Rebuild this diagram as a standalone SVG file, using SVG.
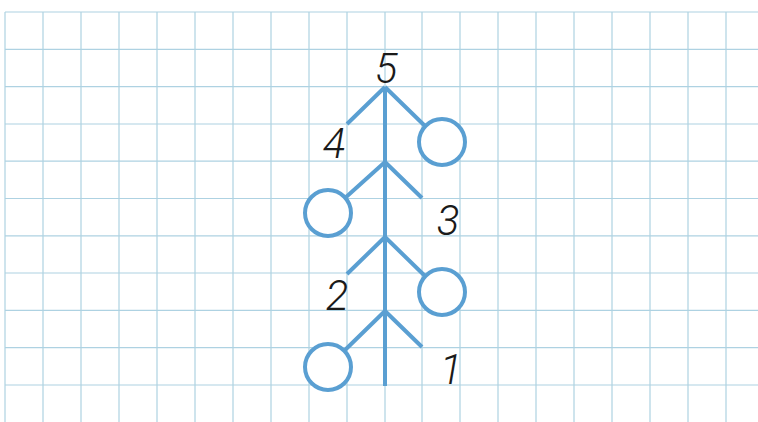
<svg xmlns="http://www.w3.org/2000/svg" width="758" height="422" viewBox="0 0 758 422">
<defs>
<style>
.grid{stroke:#aed2e2;stroke-width:1.2;fill:none}
.blue{stroke:#5a9fd2;stroke-width:4;fill:none;stroke-linecap:butt}
.circ{stroke:#5a9fd2;stroke-width:4;fill:#fff}
.num{font-family:Roboto,"Liberation Sans",Arial,sans-serif;font-style:italic;font-weight:300;font-size:42px;fill:#1a1a1a;text-anchor:middle}
</style>
</defs>
<rect width="758" height="422" fill="#fff"/>
<g id="grid" class="grid">
<path d="M5 12V422M43 12V422M81 12V422M119 12V422M157 12V422M195 12V422M233 12V422M271 12V422M309 12V422M347 12V422M385 12V422M422 12V422M460 12V422M498 12V422M536 12V422M574 12V422M612 12V422M650 12V422M688 12V422M726 12V422"/>
<path d="M5 12H758M5 49.3H758M5 86.6H758M5 124H758M5 161.2H758M5 198.5H758M5 235.8H758M5 273H758M5 310.4H758M5 347.7H758M5 385H758"/>
</g>
<g id="connectors" class="blue">
<path d="M385 87V386"/>
<path d="M385 87L347 124M385 87L425 126"/>
<path d="M385 162L345 198M385 162L422 198"/>
<path d="M385 237L347 274M385 237L425 276"/>
<path d="M385 311L344 351M385 311L422 347"/>
</g>
<g id="circle1"><circle class="circ" cx="442" cy="142" r="23"/></g>
<g id="circle2"><circle class="circ" cx="328" cy="213" r="23"/></g>
<g id="circle3"><circle class="circ" cx="442" cy="292" r="23"/></g>
<g id="circle4"><circle class="circ" cx="328" cy="367" r="23"/></g>
<g id="label5"><text class="num" x="386" y="83">5</text></g>
<g id="label4"><text class="num" x="334" y="158">4</text></g>
<g id="label3"><text class="num" x="448" y="235">3</text></g>
<g id="label2"><text class="num" x="337" y="310">2</text></g>
<g id="label1"><text class="num" x="451" y="384">1</text></g>
</svg>
